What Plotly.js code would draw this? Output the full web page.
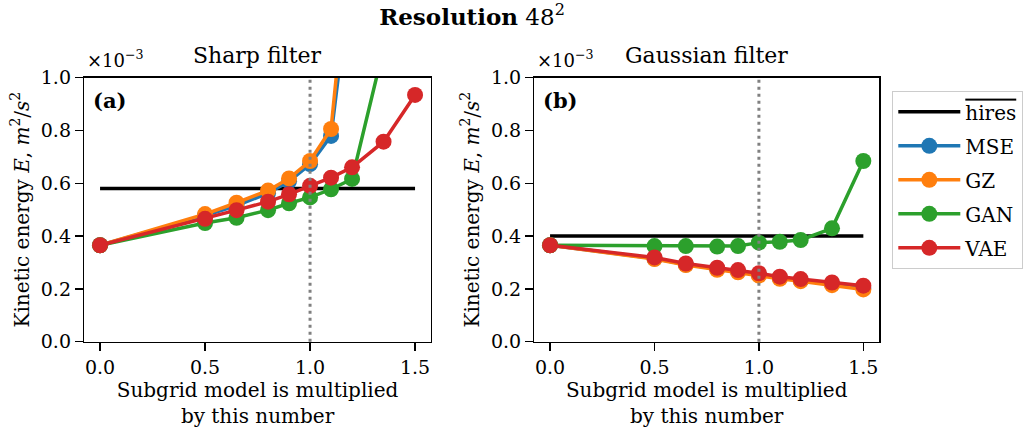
<!DOCTYPE html>
<html>
<head>
<meta charset="utf-8">
<script src="https://cdn.plot.ly/plotly-3.0.1.min.js"></script>
<style>html,body{margin:0;padding:0;background:#fff;}#chart{width:1029px;height:429px;}</style>
</head>
<body>
<div id="chart"></div>
<script>
// Subgrid multipliers (x values)
const multipliers = [0, 0.5, 0.65, 0.8, 0.9, 1.0, 1.1, 1.2, 1.35, 1.5];

// Kinetic energy (units of 1e-3 m^2/s^2) — Sharp filter
const sharpHires = 0.58;
const sharpMSE = [0.365, 0.477, 0.515, 0.562, 0.607, 0.672, 0.779, 1.63, 2.4, 3.2];
const sharpGZ  = [0.365, 0.483, 0.526, 0.572, 0.618, 0.684, 0.805, 1.89, 2.8, 3.6];
const sharpGAN = [0.365, 0.449, 0.469, 0.498, 0.524, 0.546, 0.577, 0.616, 1.11, 1.6];
const sharpVAE = [0.365, 0.465, 0.498, 0.530, 0.558, 0.590, 0.621, 0.660, 0.757, 0.934];

// Gaussian filter
const gaussHires = 0.40;
const gaussMSE = [0.365, 0.315, 0.292, 0.275, 0.266, 0.253, 0.241, 0.232, 0.218, 0.203];
const gaussGZ  = [0.365, 0.313, 0.290, 0.272, 0.263, 0.250, 0.238, 0.229, 0.214, 0.198];
const gaussGAN = [0.365, 0.362, 0.362, 0.360, 0.362, 0.375, 0.378, 0.385, 0.429, 0.684];
const gaussVAE = [0.365, 0.319, 0.296, 0.280, 0.271, 0.259, 0.246, 0.237, 0.224, 0.212];

const modelNames = ['MSE', 'GZ', 'GAN', 'VAE'];
const modelColors = ['#1f77b4', '#ff7f0e', '#2ca02c', '#d62728'];
const xTicks = [0, 0.5, 1.0, 1.5];
const panelTitles = ['Sharp filter', 'Gaussian filter'];
const panelLetters = ['(a)', '(b)'];

const FONT = 'DejaVu Serif, Liberation Serif, serif';
const W = 1029, H = 429;

const panels = [
  {hires: sharpHires, series: [sharpMSE, sharpGZ, sharpGAN, sharpVAE], xa: 'x', ya: 'y'},
  {hires: gaussHires, series: [gaussMSE, gaussGZ, gaussGAN, gaussVAE], xa: 'x2', ya: 'y2'}
];

const traces = [];
panels.forEach((p, pi) => {
  const hx = [multipliers[0], multipliers[multipliers.length - 1]];
  traces.push({
    x: hx, y: [p.hires, p.hires], xaxis: p.xa, yaxis: p.ya,
    mode: 'lines', name: '<span style="text-decoration:overline">hires</span>',
    line: {color: '#000000', width: 3.5},
    legendgroup: 'hires', showlegend: pi === 0
  });
  p.series.forEach((vals, si) => {
    traces.push({
      x: multipliers, y: vals, xaxis: p.xa, yaxis: p.ya,
      mode: 'lines+markers', name: modelNames[si],
      line: {color: modelColors[si], width: 3.5},
      marker: {color: modelColors[si], size: 16},
      cliponaxis: true,
      legendgroup: modelNames[si], showlegend: pi === 0
    });
  });
});

const px = v => v / W;
const py = v => 1 - v / H;

const xDom1 = [px(84.3), px(430.8)];
const xDom2 = [px(534.4), px(879)];
const yDom = [py(341.7), py(77.5)];

function xAxis(dom, anchor) {
  return {
    domain: dom, anchor: anchor, range: [-0.075, 1.575],
    tickvals: xTicks, tickformat: '.1f',
    ticks: 'outside', ticklen: 8, tickwidth: 1.3, tickcolor: '#000',
    showline: true, linecolor: '#000', linewidth: 1.5, mirror: true,
    showgrid: false, zeroline: false,
    tickfont: {family: FONT, size: 19, color: '#000'},
    title: {text: 'Subgrid model is multiplied<br>by this number', standoff: 3,
            font: {family: FONT, size: 20, color: '#000'}}
  };
}
function yAxis(dom, anchor) {
  return {
    domain: dom, anchor: anchor, range: [0, 1.0],
    dtick: 0.2, tickformat: '.1f',
    ticks: 'outside', ticklen: 8, tickwidth: 1.3, tickcolor: '#000',
    showline: true, linecolor: '#000', linewidth: 1.5, mirror: true,
    showgrid: false, zeroline: false,
    tickfont: {family: FONT, size: 19, color: '#000'},
    title: {text: 'Kinetic energy <i>E</i>, <i>m</i><sup>2</sup>/<i>s</i><sup>2</sup>', standoff: 6,
            font: {family: FONT, size: 20, color: '#000'}}
  };
}

const annotations = [];
const shapes = [];
[xDom1, xDom2].forEach((dom, i) => {
  annotations.push({
    xref: 'paper', yref: 'paper', x: (dom[0] + dom[1]) / 2, y: py(70),
    xanchor: 'center', yanchor: 'bottom', showarrow: false,
    text: panelTitles[i], font: {family: FONT, size: 22, color: '#000'}
  });
  annotations.push({
    xref: 'paper', yref: 'paper', x: dom[0] + px(1), y: py(73),
    xanchor: 'left', yanchor: 'bottom', showarrow: false,
    text: '×10<sup>−3</sup>', font: {family: FONT, size: 18, color: '#000'}
  });
  annotations.push({
    xref: 'paper', yref: 'paper', x: dom[0] + px(7), y: py(86),
    xanchor: 'left', yanchor: 'top', showarrow: false,
    text: '<b>' + panelLetters[i] + '</b>', font: {family: FONT, size: 21, color: '#000'}
  });
  shapes.push({
    type: 'line', xref: i === 0 ? 'x' : 'x2', yref: i === 0 ? 'y domain' : 'y2 domain',
    x0: 1, x1: 1, y0: 0, y1: 1, layer: 'above',
    line: {color: '#808080', width: 3, dash: '3px,4px'}
  });
});

const layout = {
  width: W, height: H,
  margin: {l: 0, r: 0, t: 0, b: 0},
  paper_bgcolor: '#fff', plot_bgcolor: '#fff',
  font: {family: FONT, color: '#000'},
  title: {text: '<b>Resolution</b> 48<sup>2</sup>', x: px(472), xanchor: 'center',
          y: py(17), yanchor: 'middle', font: {family: FONT, size: 23, color: '#000'}},
  xaxis: xAxis(xDom1, 'y'),
  yaxis: yAxis(yDom, 'x'),
  xaxis2: xAxis(xDom2, 'y2'),
  yaxis2: yAxis(yDom, 'x2'),
  showlegend: true,
  legend: {
    x: px(892), y: py(91), xanchor: 'left', yanchor: 'top',
    bgcolor: '#fff', bordercolor: '#cccccc', borderwidth: 1.3,
    font: {family: FONT, size: 20, color: '#000'},
    tracegroupgap: 5, itemwidth: 62
  },
  annotations: annotations,
  shapes: shapes
};

Plotly.newPlot('chart', traces, layout, {staticPlot: true, displayModeBar: false});
</script>
</body>
</html>
